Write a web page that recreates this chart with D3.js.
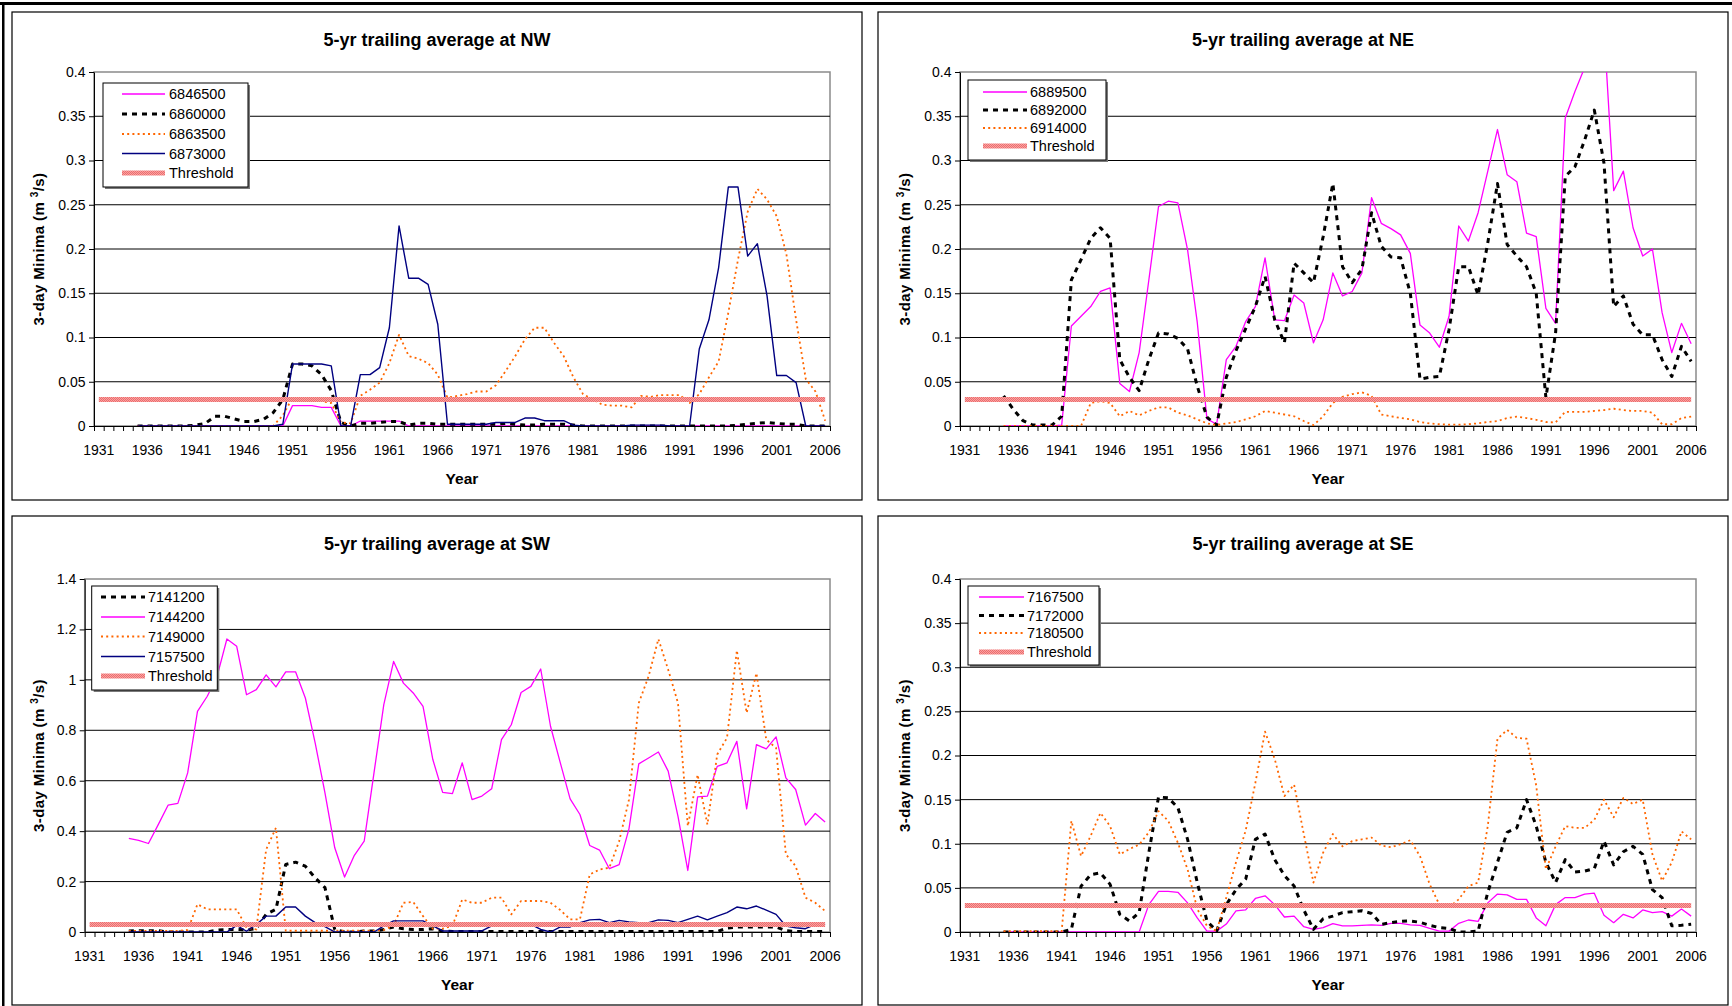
<!DOCTYPE html>
<html>
<head>
<meta charset="utf-8">
<script src="https://cdn.jsdelivr.net/npm/d3@7"></script>
<style>
  body { margin: 0; background: #fff; }
  svg { display: block; }
</style>
</head>
<body>
<svg id="chart" width="1732" height="1006"></svg>
<script>
const FONT = "Arial, 'Liberation Sans', sans-serif";

// categories: one per year, labels every 5th
const years = d3.range(1931, 2007);
const labelYears = [1931, 1936, 1941, 1946, 1951, 1956, 1961, 1966, 1971, 1976, 1981, 1986, 1991, 1996, 2001, 2006];
const SERIES_START = 1935;
const THRESHOLD = 0.03;

// ---- NW ----
const nw6846500 = [
  0, 0, 0, 0, 0, 0,
  0, 0, 0, 0, 0, 0, 0, 0, 0, 0,
  0.023, 0.023, 0.023, 0.021, 0.021, 0, 0, 0.0056, 0.0056, 0.0056,
  0.0056, 0.0056, 0, 0, 0, 0, 0, 0, 0, 0,
  0, 0, 0, 0, 0, 0, 0, 0, 0, 0,
  0, 0, 0, 0, 0, 0, 0, 0, 0, 0,
  0, 0, 0, 0, 0, 0, 0, 0, 0, 0,
  0, 0, 0, 0, 0, 0
];
const nw6860000 = [
  0, 0, 0, 0, 0, 0,
  0.001, 0.003, 0.011, 0.011, 0.008, 0.005, 0.005, 0.0075, 0.015, 0.03,
  0.07, 0.07, 0.068, 0.058, 0.04, 0.004, 0, 0.003, 0.003, 0.004,
  0.005, 0.005, 0.001, 0.003, 0.003, 0.002, 0.002, 0.002, 0.002, 0.002,
  0.002, 0.002, 0.003, 0.002, 0.001, 0.001, 0.002, 0.002, 0.002, 0.001,
  0, 0, 0, 0, 0, 0, 0, 0, 0, 0,
  0, 0, 0, 0, 0, 0, 0.001, 0.002, 0.003, 0.004,
  0.003, 0.002, 0.002, 0, 0, 0
];
const nw6863500 = [
  0, 0, 0, 0, 0, 0,
  0, 0, 0, 0, 0, 0, 0, 0, 0, 0.012,
  0.032, 0.031, 0.03, 0.028, 0.026, 0.004, 0.003, 0.034, 0.041, 0.049,
  0.071, 0.103, 0.079, 0.076, 0.071, 0.058, 0.032, 0.034, 0.036, 0.039,
  0.039, 0.046, 0.062, 0.079, 0.098, 0.111, 0.111, 0.094, 0.079, 0.055,
  0.036, 0.030, 0.024, 0.023, 0.023, 0.021, 0.034, 0.033, 0.035, 0.035,
  0.035, 0.026, 0.036, 0.055, 0.073, 0.128, 0.188, 0.242, 0.268, 0.256,
  0.237, 0.194, 0.120, 0.053, 0.039, 0.006
];
const nw6873000 = [
  0, 0, 0, 0, 0, 0,
  0, 0, 0, 0, 0, 0, 0, 0, 0, 0.002,
  0.07, 0.07, 0.07, 0.07, 0.068, 0, 0, 0.058, 0.058, 0.066,
  0.111, 0.226, 0.167, 0.167, 0.160, 0.115, 0.002, 0.002, 0.002, 0.002,
  0.002, 0.004, 0.004, 0.004, 0.009, 0.009, 0.006, 0.006, 0.006, 0.001,
  0, 0, 0, 0, 0, 0.001, 0.001, 0.001, 0.001, 0,
  0, 0, 0.087, 0.120, 0.179, 0.270, 0.270, 0.192, 0.206, 0.147,
  0.057, 0.057, 0.049, 0, 0, 0
];

// ---- NE ----
const ne6889500 = [
  0, 0, 0, 0, 0, 0,
  0.001, 0.113, 0.124, 0.135, 0.152, 0.156, 0.048, 0.039, 0.083, 0.165,
  0.248, 0.254, 0.252, 0.199, 0.117, 0.008, 0.002, 0.075, 0.090, 0.118,
  0.135, 0.190, 0.120, 0.119, 0.148, 0.139, 0.094, 0.120, 0.173, 0.147,
  0.152, 0.173, 0.258, 0.229, 0.223, 0.216, 0.195, 0.114, 0.105, 0.089,
  0.124, 0.226, 0.209, 0.241, 0.288, 0.335, 0.284, 0.276, 0.218, 0.214,
  0.133, 0.116, 0.348, 0.378, 0.405, 0.43, 0.449, 0.266, 0.288, 0.224,
  0.192, 0.200, 0.128, 0.083, 0.116, 0.093
];
const ne6892000 = [
  0.034, 0.019, 0.006, 0.001, 0.001, 0.001,
  0.011, 0.165, 0.188, 0.212, 0.224, 0.212, 0.075, 0.055, 0.040, 0.075,
  0.105, 0.104, 0.099, 0.087, 0.045, 0.010, 0.001, 0.055, 0.085, 0.110,
  0.135, 0.169, 0.120, 0.094, 0.184, 0.173, 0.162, 0.214, 0.274, 0.180,
  0.162, 0.177, 0.241, 0.203, 0.191, 0.190, 0.150, 0.053, 0.055, 0.056,
  0.109, 0.180, 0.180, 0.148, 0.207, 0.274, 0.205, 0.192, 0.180, 0.150,
  0.032, 0.105, 0.282, 0.293, 0.323, 0.357, 0.297, 0.135, 0.147, 0.115,
  0.103, 0.103, 0.075, 0.056, 0.090, 0.073
];
const ne6914000 = [
  0, 0, 0, 0, 0, 0,
  0, 0, 0, 0.026, 0.028, 0.026, 0.011, 0.017, 0.012, 0.017,
  0.021, 0.021, 0.015, 0.012, 0.0075, 0.003, 0.001, 0.003, 0.0045, 0.0075,
  0.011, 0.017, 0.015, 0.013, 0.011, 0.0056, 0.001, 0.011, 0.026, 0.033,
  0.036, 0.038, 0.034, 0.013, 0.011, 0.009, 0.0075, 0.0045, 0.003, 0.002,
  0.0015, 0.0015, 0.002, 0.003, 0.0045, 0.0056, 0.009, 0.0105, 0.009, 0.007,
  0.0045, 0.004, 0.016, 0.016, 0.016, 0.017, 0.018, 0.0195, 0.018, 0.017,
  0.017, 0.015, 0.002, 0.002, 0.009, 0.0105
];

// ---- SW ----
const sw7141200 = [
  0.004, 0.005, 0.005, 0.005, 0, 0,
  0, 0, 0, 0.008, 0.01, 0.01, 0.008, 0.013, 0.07, 0.09,
  0.268, 0.277, 0.261, 0.215, 0.176, 0.01, 0, 0, 0.004, 0.004,
  0.01, 0.02, 0.013, 0.01, 0.01, 0.013, 0.004, 0.002, 0.002, 0.002,
  0.002, 0.002, 0.002, 0.002, 0.002, 0.002, 0.002, 0.002, 0.002, 0.002,
  0.002, 0.002, 0.002, 0.002, 0.002, 0.002, 0.002, 0.002, 0.002, 0.002,
  0.002, 0.002, 0.002, 0.002, 0.002, 0.015, 0.02, 0.02, 0.02, 0.02,
  0.02, 0.005, 0.002, 0.002, 0.002, 0.002
];
const sw7144200 = [
  0.371, 0.363, 0.351, 0.426, 0.503, 0.510,
  0.631, 0.875, 0.935, 1.014, 1.162, 1.133, 0.941, 0.961, 1.020, 0.972,
  1.032, 1.032, 0.928, 0.750, 0.552, 0.334, 0.218, 0.304, 0.360, 0.631,
  0.902, 1.073, 0.987, 0.948, 0.895, 0.684, 0.554, 0.549, 0.671, 0.525,
  0.539, 0.568, 0.763, 0.822, 0.950, 0.974, 1.043, 0.816, 0.671, 0.528,
  0.466, 0.343, 0.325, 0.251, 0.267, 0.409, 0.667, 0.690, 0.714, 0.638,
  0.459, 0.244, 0.536, 0.539, 0.657, 0.671, 0.756, 0.488, 0.743, 0.726,
  0.774, 0.611, 0.565, 0.424, 0.470, 0.436
];
const sw7149000 = [
  0.004, 0.004, 0.004, 0.004, 0.004, 0.004,
  0.008, 0.11, 0.09, 0.09, 0.09, 0.09, 0.017, 0.01, 0.327, 0.413,
  0.005, 0.005, 0.005, 0.005, 0.005, 0.005, 0.005, 0.005, 0.005, 0.005,
  0.008, 0.025, 0.116, 0.119, 0.063, 0.013, 0.013, 0.024, 0.129, 0.116,
  0.116, 0.136, 0.136, 0.07, 0.123, 0.123, 0.123, 0.116, 0.087, 0.05,
  0.05, 0.228, 0.248, 0.255, 0.36, 0.525, 0.908, 1.014, 1.162, 1.04,
  0.908, 0.42, 0.624, 0.426, 0.704, 0.77, 1.117, 0.869, 1.027, 0.763,
  0.73, 0.308, 0.261, 0.136, 0.116, 0.083
];
const sw7157500 = [
  0, 0, 0, 0, 0, 0,
  0, 0, 0, 0, 0, 0.026, 0.003, 0.03, 0.063, 0.063,
  0.099, 0.099, 0.063, 0.037, 0.021, 0, 0, 0, 0, 0,
  0.024, 0.044, 0.044, 0.044, 0.044, 0.024, 0.004, 0.004, 0.004, 0.004,
  0.004, 0.024, 0.03, 0.03, 0.03, 0.03, 0.01, 0, 0.02, 0.02,
  0.037, 0.048, 0.05, 0.037, 0.046, 0.04, 0.037, 0.037, 0.048, 0.046,
  0.037, 0.05, 0.063, 0.048, 0.063, 0.077, 0.099, 0.092, 0.103, 0.087,
  0.07, 0.024, 0.017, 0.013, 0.03, 0.03
];

// ---- SE ----
const se7167500 = [
  0, 0, 0, 0, 0, 0,
  0, 0, 0, 0, 0, 0, 0, 0, 0, 0.031,
  0.046, 0.046, 0.045, 0.033, 0.016, 0.001, 0.001, 0.009, 0.024, 0.025,
  0.038, 0.041, 0.031, 0.017, 0.018, 0.006, 0.003, 0.005, 0.0095, 0.007,
  0.007, 0.0076, 0.008, 0.0076, 0.0098, 0.0098, 0.008, 0.0076, 0.004, 0.001,
  0.001, 0.0098, 0.0136, 0.012, 0.033, 0.043, 0.042, 0.037, 0.037, 0.016,
  0.007, 0.031, 0.039, 0.039, 0.043, 0.044, 0.019, 0.0106, 0.02, 0.016,
  0.025, 0.022, 0.023, 0.018, 0.026, 0.018
];
const se7172000 = [
  0, 0, 0, 0, 0, 0,
  0, 0.003, 0.052, 0.065, 0.067, 0.054, 0.02, 0.0125, 0.022, 0.09,
  0.153, 0.152, 0.141, 0.105, 0.056, 0.0125, 0.001, 0.031, 0.048, 0.06,
  0.105, 0.111, 0.082, 0.064, 0.052, 0.025, 0.003, 0.015, 0.018, 0.022,
  0.023, 0.024, 0.021, 0.0087, 0.0106, 0.012, 0.0125, 0.011, 0.0076, 0.005,
  0.004, 0, 0, 0.001, 0.045, 0.079, 0.113, 0.118, 0.15, 0.12,
  0.079, 0.056, 0.082, 0.068, 0.069, 0.072, 0.103, 0.076, 0.091, 0.097,
  0.088, 0.048, 0.039, 0.007, 0.0076, 0.0087
];
const se7180500 = [
  0.001, 0.001, 0.001, 0.001, 0.001, 0.001,
  0.001, 0.126, 0.086, 0.109, 0.135, 0.12, 0.088, 0.094, 0.099, 0.113,
  0.137, 0.126, 0.101, 0.071, 0.026, 0.007, 0.001, 0.039, 0.079, 0.115,
  0.169, 0.227, 0.196, 0.154, 0.167, 0.111, 0.056, 0.09, 0.111, 0.097,
  0.103, 0.105, 0.107, 0.098, 0.096, 0.0995, 0.104, 0.086, 0.054, 0.031,
  0.028, 0.037, 0.052, 0.056, 0.12, 0.219, 0.229, 0.22, 0.219, 0.166,
  0.071, 0.097, 0.12, 0.118, 0.118, 0.127, 0.15, 0.13, 0.152, 0.145,
  0.15, 0.088, 0.058, 0.079, 0.114, 0.105
];

// line looks, Excel-ish
const STYLES = {
  magenta: { stroke: "#ff00ff", width: 1.3, dash: null },
  black: { stroke: "#000000", width: 3, dash: "5,5" },
  orange: { stroke: "#ff6600", width: 1.8, dash: "2,3.2" },
  navy: { stroke: "#000080", width: 1.4, dash: null },
  threshold: { stroke: "url(#thresholdFill)", width: 5, dash: null }
};

const panels = [
  {
    title: "5-yr trailing average at NW",
    box: { x: 12, y: 12, w: 850, h: 488 },
    plot: { x: 94, y: 72, w: 736, h: 354 },
    yMax: 0.4, yStep: 0.05,
    legend: { x: 103, y: 83, w: 145, h: 104, rows: [94, 114, 134, 153.5, 173], sx0: 122, sx1: 165, tx: 169 },
    series: [
      { name: "6846500", values: nw6846500, style: "magenta" },
      { name: "6860000", values: nw6860000, style: "black" },
      { name: "6863500", values: nw6863500, style: "orange" },
      { name: "6873000", values: nw6873000, style: "navy" }
    ]
  },
  {
    title: "5-yr trailing average at NE",
    box: { x: 878, y: 12, w: 850, h: 488 },
    plot: { x: 960, y: 72, w: 736, h: 354 },
    yMax: 0.4, yStep: 0.05,
    legend: { x: 968, y: 80, w: 138, h: 80, rows: [92, 110, 128, 146], sx0: 983, sx1: 1027, tx: 1030 },
    series: [
      { name: "6889500", values: ne6889500, style: "magenta" },
      { name: "6892000", values: ne6892000, style: "black" },
      { name: "6914000", values: ne6914000, style: "orange" }
    ]
  },
  {
    title: "5-yr trailing average at SW",
    box: { x: 12, y: 516, w: 850, h: 489 },
    plot: { x: 84.7, y: 579, w: 745.3, h: 353 },
    yMax: 1.4, yStep: 0.2,
    legend: { x: 91.7, y: 586, w: 125.6, h: 104, rows: [597, 617, 636.5, 656.5, 676], sx0: 101, sx1: 145, tx: 148 },
    series: [
      { name: "7141200", values: sw7141200, style: "black" },
      { name: "7144200", values: sw7144200, style: "magenta" },
      { name: "7149000", values: sw7149000, style: "orange" },
      { name: "7157500", values: sw7157500, style: "navy" }
    ]
  },
  {
    title: "5-yr trailing average at SE",
    box: { x: 878, y: 516, w: 850, h: 489 },
    plot: { x: 960, y: 579, w: 736, h: 353 },
    yMax: 0.4, yStep: 0.05,
    legend: { x: 968, y: 586, w: 131, h: 79, rows: [597, 615.5, 633, 652], sx0: 979, sx1: 1024, tx: 1027 },
    series: [
      { name: "7167500", values: se7167500, style: "magenta" },
      { name: "7172000", values: se7172000, style: "black" },
      { name: "7180500", values: se7180500, style: "orange" }
    ]
  }
];

const svg = d3.select("#chart");
const defs = svg.append("defs");

// dithered salmon fill used by the threshold band
const pat = defs.append("pattern")
  .attr("id", "thresholdFill")
  .attr("patternUnits", "userSpaceOnUse")
  .attr("width", 2)
  .attr("height", 2);
pat.append("rect").attr("width", 2).attr("height", 2).attr("fill", "#f7a3a3");
pat.append("rect").attr("width", 1).attr("height", 1).attr("fill", "#ee6c6c");
pat.append("rect").attr("x", 1).attr("y", 1).attr("width", 1).attr("height", 1).attr("fill", "#ee6c6c");

// page edge lines
svg.append("rect").attr("x", 0).attr("y", 2).attr("width", 1732).attr("height", 3).attr("fill", "#000");
svg.append("rect").attr("x", 2).attr("y", 2).attr("width", 2.5).attr("height", 1004).attr("fill", "#000");

const fmt = d => String(+d.toFixed(2));

function applyStyle(sel, key) {
  const s = STYLES[key];
  sel.attr("fill", "none")
    .attr("stroke", s.stroke)
    .attr("stroke-width", s.width)
    .attr("stroke-dasharray", s.dash)
    .attr("stroke-linejoin", "round");
}

panels.forEach((p, i) => {
  const g = svg.append("g");
  const { plot } = p;
  const bottom = plot.y + plot.h;
  const right = plot.x + plot.w;

  g.append("rect")
    .attr("x", p.box.x).attr("y", p.box.y)
    .attr("width", p.box.w).attr("height", p.box.h)
    .attr("fill", "#fff")
    .attr("stroke", "#000")
    .attr("stroke-width", 1.2);

  const x = d3.scaleBand().domain(years).range([plot.x, right]);
  const xEdge = d3.scaleLinear().domain([0, years.length]).range([plot.x, right]);
  const y = d3.scaleLinear().domain([0, p.yMax]).range([bottom, plot.y]);
  const yTicks = d3.range(0, p.yMax + p.yStep / 2, p.yStep);
  const cx = yr => x(yr) + x.bandwidth() / 2;

  // plot area frame
  g.append("rect")
    .attr("x", plot.x).attr("y", plot.y)
    .attr("width", plot.w).attr("height", plot.h)
    .attr("fill", "#fff")
    .attr("stroke", "#8a8a8a")
    .attr("stroke-width", 1.5);

  // gridlines
  g.append("g")
    .selectAll("line")
    .data(yTicks.slice(1, -1))
    .enter()
    .append("line")
    .attr("x1", plot.x).attr("x2", right)
    .attr("y1", d => y(d)).attr("y2", d => y(d))
    .attr("stroke", "#000")
    .attr("stroke-width", 1);

  // series, clipped to plot area
  const clipId = "clip" + i;
  defs.append("clipPath").attr("id", clipId)
    .append("rect")
    .attr("x", plot.x).attr("y", plot.y)
    .attr("width", plot.w).attr("height", plot.h);

  const line = d3.line()
    .defined(d => d.v != null)
    .x(d => cx(d.year))
    .y(d => y(d.v));

  const lines = g.append("g").attr("clip-path", `url(#${clipId})`);

  p.series.forEach(s => {
    const pts = s.values.map((v, k) => ({ year: SERIES_START + k, v }));
    lines.append("path")
      .attr("d", line(pts))
      .call(applyStyle, s.style);
  });

  // threshold drawn last, across every category
  lines.append("path")
    .attr("d", line(years.map(yr => ({ year: yr, v: THRESHOLD }))))
    .call(applyStyle, "threshold");

  // y axis
  g.append("g")
    .attr("transform", `translate(${plot.x},0)`)
    .call(d3.axisLeft(y).tickValues(yTicks).tickSize(5).tickSizeOuter(0).tickPadding(3.5).tickFormat(fmt))
    .call(a => a.selectAll("text").attr("font-size", 14).attr("font-family", FONT).attr("fill", "#000"))
    .call(a => a.selectAll("line").attr("stroke", "#000"))
    .call(a => a.select(".domain").attr("stroke", "#000"));

  // x axis: tick marks between categories
  g.append("g")
    .attr("transform", `translate(0,${bottom})`)
    .call(d3.axisBottom(xEdge).tickValues(d3.range(years.length + 1)).tickSize(5).tickSizeOuter(0).tickFormat(""))
    .call(a => a.selectAll("line").attr("stroke", "#000"))
    .call(a => a.select(".domain").attr("stroke", "#000"));

  // x axis labels at category centres
  g.append("g")
    .attr("transform", `translate(0,${bottom})`)
    .call(d3.axisBottom(x).tickValues(labelYears).tickSize(0).tickPadding(19))
    .call(a => a.select(".domain").remove())
    .call(a => a.selectAll("text").attr("font-size", 14).attr("font-family", FONT).attr("fill", "#000"));

  // titles
  g.append("text")
    .attr("x", p.box.x + p.box.w / 2)
    .attr("y", p.box.y + 34)
    .attr("text-anchor", "middle")
    .attr("font-family", FONT)
    .attr("font-size", 18)
    .attr("font-weight", "bold")
    .text(p.title);

  g.append("text")
    .attr("x", plot.x + plot.w / 2)
    .attr("y", bottom + 58)
    .attr("text-anchor", "middle")
    .attr("font-family", FONT)
    .attr("font-size", 15.5)
    .attr("font-weight", "bold")
    .text("Year");

  const yt = g.append("text")
    .attr("transform", `translate(${p.box.x + 32},${plot.y + plot.h / 2}) rotate(-90)`)
    .attr("text-anchor", "middle")
    .attr("font-family", FONT)
    .attr("font-size", 15)
    .attr("font-weight", "bold")
    .attr("letter-spacing", 0.4);
  yt.append("tspan").text("3-day Minima (m ");
  yt.append("tspan").attr("font-size", 10).attr("dy", -6).text("3");
  yt.append("tspan").attr("dy", 6).text("/s)");

  // legend
  const L = p.legend;
  g.append("rect")
    .attr("x", L.x + 2).attr("y", L.y + 2)
    .attr("width", L.w).attr("height", L.h)
    .attr("fill", "#7a7a7a");
  g.append("rect")
    .attr("x", L.x).attr("y", L.y)
    .attr("width", L.w).attr("height", L.h)
    .attr("fill", "#fff")
    .attr("stroke", "#000")
    .attr("stroke-width", 1);

  const entries = p.series.map(s => ({ name: s.name, style: s.style }))
    .concat([{ name: "Threshold", style: "threshold" }]);

  entries.forEach((e, j) => {
    const ry = L.rows[j];
    g.append("line")
      .attr("x1", L.sx0).attr("x2", L.sx1)
      .attr("y1", ry).attr("y2", ry)
      .call(applyStyle, e.style);
    g.append("text")
      .attr("x", L.tx)
      .attr("y", ry)
      .attr("dy", "0.36em")
      .attr("font-family", FONT)
      .attr("font-size", 14.5)
      .attr("fill", "#000")
      .text(e.name);
  });
});
</script>
</body>
</html>
